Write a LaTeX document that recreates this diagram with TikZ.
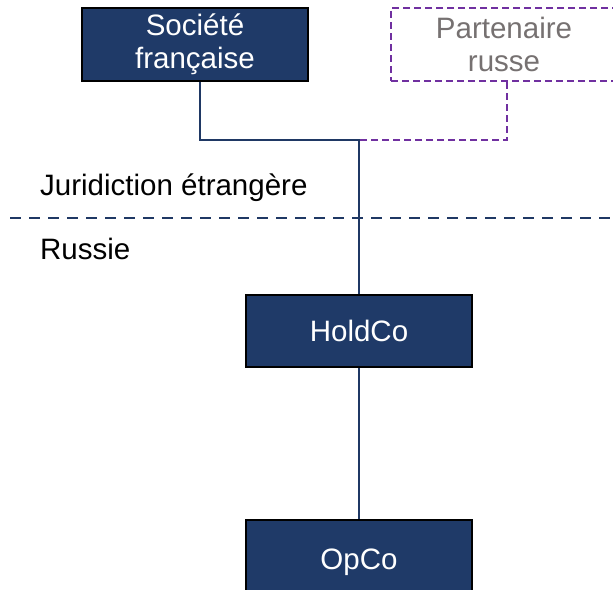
\documentclass[tikz,border=0pt]{standalone}
\usepackage{fontspec}
\setmainfont{Liberation Sans}
\definecolor{navy}{HTML}{1F3A68}
\definecolor{navyline}{HTML}{1F3864}
\definecolor{purp}{HTML}{7030A0}
\definecolor{greytxt}{HTML}{767171}
\begin{document}
\begin{tikzpicture}[x=1pt,y=-1pt,
  font=\fontsize{29.5}{32.5}\selectfont,
  navybox/.style={draw=black,line width=1.5pt,fill=navy,text=white,minimum width=226pt,align=center,inner sep=0pt},
  partbox/.style={draw=purp,line width=2pt,dash pattern=on 7pt off 4pt,text=greytxt,minimum width=226pt,minimum height=73pt,align=center,inner sep=0pt},
  conn/.style={draw=navyline,line width=2.2pt},
  pconn/.style={draw=purp,line width=2.2pt,dash pattern=on 7pt off 4pt},
  sep/.style={draw=navyline,line width=2.2pt,dash pattern=on 11pt off 8pt},
  lbl/.style={anchor=west,inner sep=0pt,text=black}]
\useasboundingbox (0,0) rectangle (613,589);
\clip (0,0) rectangle (613,589);
\node[navybox,minimum height=73pt] (soc) at (195,44.5) {Société\\française};
\node[partbox] (par) at (504,44.5) {Partenaire\\russe};
\node[navybox,minimum height=72pt] (hold) at (359,331) {HoldCo};
\node[navybox,minimum height=84pt] (opco) at (359,562) {OpCo};
\coordinate (j) at (359,140);
\coordinate (sepL) at (10,218);
\coordinate (sepR) at (613,218);
\draw[pconn] ([xshift=3pt]par.south) |- (j);
\draw[conn] ([xshift=5pt]soc.south) |- (j) -- (hold.north);
\draw[conn] (hold.south) -- (opco.north);
\draw[sep] (sepL) -- (sepR);
\node[lbl] (jur) at (40,188) {Juridiction étrangère};
\node[lbl] (rus) at (40,249) {Russie};
\end{tikzpicture}
\end{document}
